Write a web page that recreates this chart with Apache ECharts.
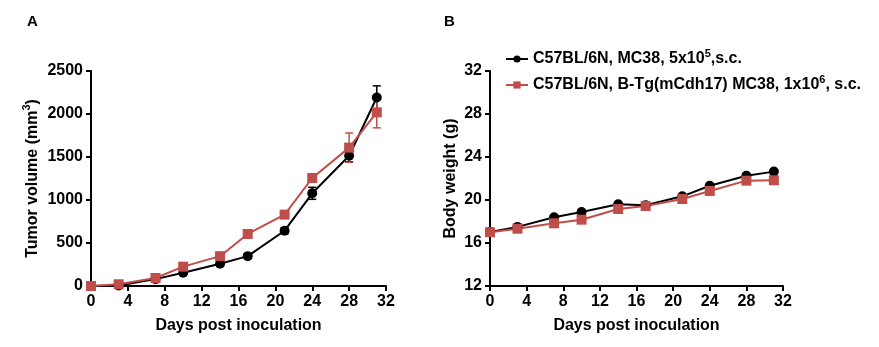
<!DOCTYPE html>
<html>
<head>
<meta charset="utf-8">
<script src="https://cdn.jsdelivr.net/npm/echarts@6/dist/echarts.min.js"></script>
<style>
  html, body { margin: 0; padding: 0; background: #fff; }
  #chart { width: 879px; height: 347px; }
</style>
</head>
<body>
<div id="chart"></div>
<script>
// Days of measurement
const days = [0, 3, 7, 10, 14, 17, 21, 24, 28, 31];

// Tumor volume (mm^3), mean and SEM
const volWT = [0, 5, 80, 155, 258, 347, 643, 1078, 1515, 2192];
const volWTErr = [0, 5, 10, 12, 15, 20, 35, 70, 70, 135];
const volTg = [0, 20, 93, 225, 347, 605, 830, 1256, 1609, 2019];
const volTgErr = [0, 8, 10, 15, 20, 25, 40, 45, 170, 180];

// Body weight (g), mean and SEM
const bwWT = [17.02, 17.5, 18.39, 18.88, 19.6, 19.52, 20.34, 21.33, 22.26, 22.64];
const bwWTErr = [0.1, 0.1, 0.1, 0.1, 0.1, 0.1, 0.15, 0.1, 0.1, 0.1];
const bwTg = [17.0, 17.33, 17.83, 18.17, 19.16, 19.44, 20.09, 20.84, 21.8, 21.83];
const bwTgErr = [0.1, 0.1, 0.1, 0.1, 0.15, 0.1, 0.3, 0.1, 0.1, 0.1];

const xTicks = [0, 4, 8, 12, 16, 20, 24, 28, 32];
const volTicks = [0, 500, 1000, 1500, 2000, 2500];
const bwTicks = [12, 16, 20, 24, 28, 32];

const nameWT = 'C57BL/6N, MC38, 5x10^5,s.c.';
const nameTg = 'C57BL/6N, B-Tg(mCdh17) MC38, 1x10^6, s.c.';

const BLACK = '#000000';
const RED = '#BF4D4A';
const FONT = '"Liberation Sans", Arial, sans-serif';

function pairs(ys) { return days.map((d, i) => [d, ys[i]]); }
function errData(ys, es) { return days.map((d, i) => [d, ys[i] - es[i], ys[i] + es[i]]); }

function errorSeries(ys, es, color, axisIndex) {
  return {
    type: 'custom',
    xAxisIndex: axisIndex, yAxisIndex: axisIndex,
    data: errData(ys, es),
    z: 1,
    silent: true,
    renderItem: function (params, api) {
      const x = api.value(0);
      const lo = api.coord([x, api.value(1)]);
      const hi = api.coord([x, api.value(2)]);
      const w = 4;
      const st = { stroke: color, lineWidth: 1.5 };
      return {
        type: 'group',
        children: [
          { type: 'line', shape: { x1: lo[0], y1: lo[1], x2: hi[0], y2: hi[1] }, style: st },
          { type: 'line', shape: { x1: hi[0] - w, y1: hi[1], x2: hi[0] + w, y2: hi[1] }, style: st },
          { type: 'line', shape: { x1: lo[0] - w, y1: lo[1], x2: lo[0] + w, y2: lo[1] }, style: st }
        ]
      };
    }
  };
}

function lineSeries(name, ys, color, symbol, size, axisIndex) {
  return {
    name: name,
    type: 'line',
    xAxisIndex: axisIndex, yAxisIndex: axisIndex,
    data: pairs(ys),
    symbol: symbol,
    symbolSize: size,
    showAllSymbol: true,
    z: 3,
    lineStyle: { color: color, width: 2 },
    itemStyle: { color: color, borderWidth: 0 },
    emphasis: { disabled: true }
  };
}

const axisLineStyle = { show: true, lineStyle: { color: '#000', width: 2 } };
const tickStyle = { show: true, length: 5, inside: false, lineStyle: { color: '#000', width: 2 } };
const labelStyle = { color: '#000', fontFamily: FONT, fontWeight: 'bold', fontSize: 16 };
const nameStyle = { color: '#000', fontFamily: FONT, fontWeight: 'bold', fontSize: 16, lineHeight: 22 };
const supStyle = { color: '#000', fontFamily: FONT, fontWeight: 'bold', fontSize: 11, lineHeight: 11, verticalAlign: 'top' };

function xAxis(gridIndex) {
  return {
    type: 'value', gridIndex: gridIndex,
    min: xTicks[0], max: xTicks[xTicks.length - 1], interval: 4,
    axisLine: axisLineStyle, axisTick: tickStyle, splitLine: { show: false },
    axisLabel: Object.assign({ margin: 8 }, labelStyle),
    name: 'Days post inoculation', nameLocation: 'middle', nameGap: 32,
    nameTextStyle: { color: '#000', fontFamily: FONT, fontWeight: 'bold', fontSize: 16 }
  };
}

function legendLabel(name) {
  const parts = name.split('^');
  const sup = parts[1].charAt(0);
  const rest = parts[1].slice(1);
  return '{a|' + parts[0] + '}{s|' + sup + '}{a|' + rest + '}';
}

const chart = echarts.init(document.getElementById('chart'), null, { renderer: 'canvas' });

chart.setOption({
  animation: false,
  backgroundColor: '#fff',
  textStyle: { fontFamily: FONT },
  grid: [
    { left: 91, right: 493, top: 71, bottom: 61, containLabel: false },
    { left: 490, right: 96, top: 71, bottom: 61, containLabel: false }
  ],
  xAxis: [xAxis(0), xAxis(1)],
  yAxis: [
    {
      type: 'value', gridIndex: 0,
      min: volTicks[0], max: volTicks[volTicks.length - 1], interval: 500,
      axisLine: axisLineStyle, axisTick: tickStyle, splitLine: { show: false },
      axisLabel: Object.assign({ margin: 8, formatter: v => String(v) }, labelStyle),
      name: '{a|Tumor volume (mm}{s|3}{a|)}', nameLocation: 'middle', nameGap: 47,
      nameTextStyle: Object.assign({}, nameStyle, {
        rich: { a: nameStyle, s: supStyle }
      })
    },
    {
      type: 'value', gridIndex: 1,
      min: bwTicks[0], max: bwTicks[bwTicks.length - 1], interval: 4,
      axisLine: axisLineStyle, axisTick: tickStyle, splitLine: { show: false },
      axisLabel: Object.assign({ margin: 8 }, labelStyle),
      name: 'Body weight (g)', nameLocation: 'middle', nameGap: 31,
      nameTextStyle: { color: '#000', fontFamily: FONT, fontWeight: 'bold', fontSize: 16 }
    }
  ],
  legend: {
    orient: 'vertical',
    left: 500, top: 43,
    itemWidth: 22, itemHeight: 9,
    itemGap: 7,
    data: [nameWT, nameTg],
    formatter: legendLabel,
    textStyle: {
      color: '#000', fontFamily: FONT, fontWeight: 'bold', fontSize: 16,
      rich: { a: nameStyle, s: supStyle }
    },
    selectedMode: false
  },
  graphic: [
    { type: 'text', left: 27, top: 14, style: { text: 'A', fill: '#000', font: 'bold 15px ' + FONT } },
    { type: 'text', left: 444, top: 14, style: { text: 'B', fill: '#000', font: 'bold 15px ' + FONT } }
  ],
  series: [
    errorSeries(volWT, volWTErr, BLACK, 0),
    errorSeries(volTg, volTgErr, RED, 0),
    lineSeries(nameWT, volWT, BLACK, 'circle', 10, 0),
    lineSeries(nameTg, volTg, RED, 'rect', 10, 0),
    errorSeries(bwWT, bwWTErr, BLACK, 1),
    errorSeries(bwTg, bwTgErr, RED, 1),
    lineSeries(nameWT, bwWT, BLACK, 'circle', 10, 1),
    lineSeries(nameTg, bwTg, RED, 'rect', 10, 1)
  ]
});
</script>
</body>
</html>
